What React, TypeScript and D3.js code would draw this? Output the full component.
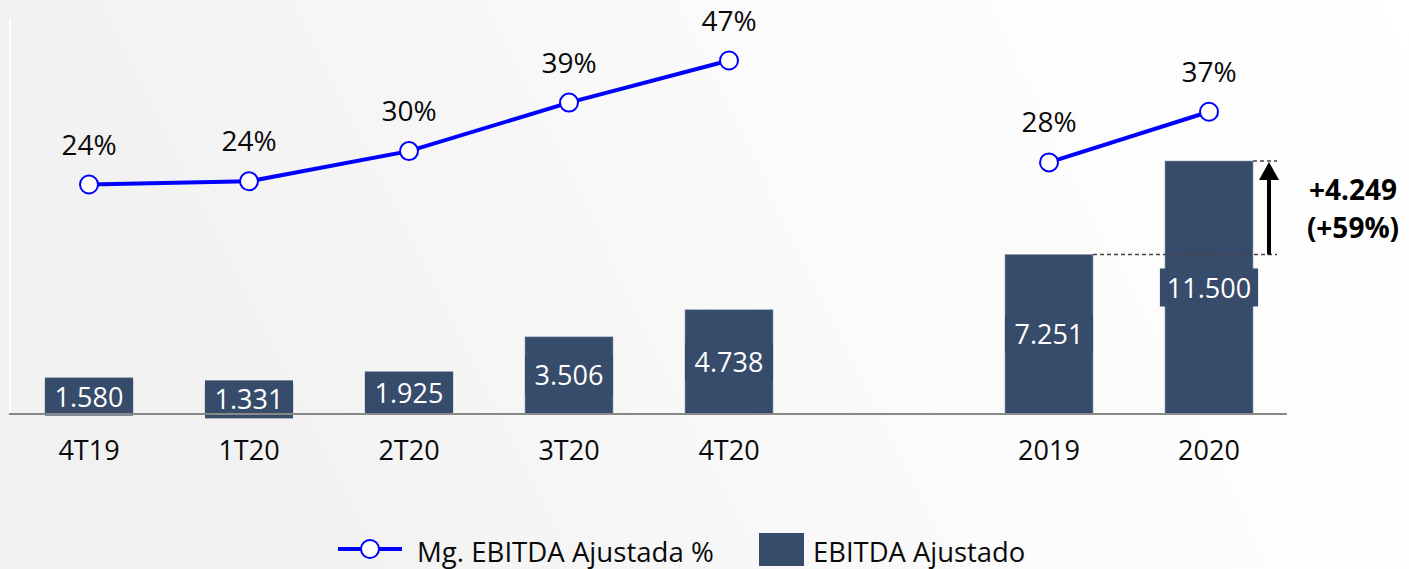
import React from "react";
import * as d3 from "d3";

const categories = ["4T19", "1T20", "2T20", "3T20", "4T20", "", "2019", "2020"];
const ebitda = [1580, 1331, 1925, 3506, 4738, null, 7251, 11500];
const ebitdaLabels = ["1.580", "1.331", "1.925", "3.506", "4.738", "", "7.251", "11.500"];
const margin = [23.9, 24.5, 30.1, 39.1, 46.9, null, 28.0, 37.4];
const marginLabels = ["24%", "24%", "30%", "39%", "47%", "", "28%", "37%"];
const lineGroups = [[0, 1, 2, 3, 4], [6, 7]];
const deltaLabel = ["+4.249", "(+59%)"];
const legendLabels = ["Mg. EBITDA Ajustada %", "EBITDA Ajustado"];

const W = 1409;
const H = 569;
const BAR = "#374B6B";
const BLUE = "#0000FF";
const FONT = "'Open Sans', 'Noto Sans', sans-serif";

export default function App() {
  const x = d3.scaleBand<number>().domain(d3.range(categories.length)).range([9, 1289]).paddingInner(0.45).paddingOuter(0.225);
  const yBar = d3.scaleLinear().domain([0, 11500]).range([414, 161]);
  const yPct = d3.scaleLinear().domain([0, 50]).range([313.4, 43.8]);
  const bw = x.bandwidth();
  const cx = (i: number) => (x(i) as number) + bw / 2;

  const line = d3.line<number>().x((i) => cx(i)).y((i) => yPct(margin[i] as number));

  const i19 = 6, i20 = 7;
  const y19 = yBar(ebitda[i19] as number);
  const y20 = yBar(ebitda[i20] as number);
  const arrowX = 1269;

  return (
    <svg width={W} height={H} style={{ position: "absolute", left: 0, top: 0 }} fontFamily={FONT}>
      <defs>
        <linearGradient id="bg" x1="0" y1="0.2" x2="1" y2="0">
          <stop offset="0" stopColor="#f1f1f1" />
          <stop offset="0.55" stopColor="#fbfbfb" />
          <stop offset="1" stopColor="#ffffff" />
        </linearGradient>
      </defs>
      <rect x={0} y={0} width={W} height={H} fill="url(#bg)" />
      <line x1={10} x2={10} y1={18} y2={414} stroke="#ffffff" strokeWidth={2} />

      {ebitda.map((v, i) =>
        v == null ? null : (
          <rect key={"b" + i} x={x(i)} y={yBar(v)} width={bw} height={yBar(0) - yBar(v)} fill={BAR} stroke="#8a9ab0" strokeWidth={0.6} />
        )
      )}

      {ebitda.map((v, i) => {
        if (v == null) return null;
        const mid = (yBar(v) + yBar(0)) / 2;
        const label = ebitdaLabels[i];
        const tw = label.length * 15.2 - 7;
        const bx = Math.max(bw, tw + 14);
        return (
          <g key={"l" + i}>
            <rect x={cx(i) - bx / 2} y={mid - 19} width={bx} height={38} fill={BAR} />
            <text x={cx(i)} y={mid + 10} textAnchor="middle" fill="#ffffff" fontSize={27}>
              {label}
            </text>
          </g>
        );
      })}

      <line x1={9} x2={1287} y1={414} y2={414} stroke="#888888" strokeWidth={2} />

      {categories.map((c, i) =>
        c ? (
          <text key={"t" + i} x={cx(i)} y={460} textAnchor="middle" fontSize={27} fill="#0a0a0a">
            {c}
          </text>
        ) : null
      )}

      {/* dashed guide lines */}
      <line x1={(x(i19) as number) + bw} x2={1277} y1={y19} y2={y19} stroke="#444" strokeWidth={1.3} strokeDasharray="4,3" />
      <line x1={(x(i20) as number) + bw} x2={1277} y1={y20} y2={y20} stroke="#444" strokeWidth={1.3} strokeDasharray="4,3" />
      {/* arrow */}
      <line x1={arrowX} x2={arrowX} y1={y19} y2={y20 + 15} stroke="#000" strokeWidth={4} />
      <path d={`M${arrowX - 10},${y20 + 19} L${arrowX},${y20 + 1} L${arrowX + 10},${y20 + 19} Z`} fill="#000" />
      <text x={1353} y={200} textAnchor="middle" fontSize={28} fontWeight="bold" fill="#000">
        {deltaLabel[0]}
      </text>
      <text x={1353} y={238} textAnchor="middle" fontSize={28} fontWeight="bold" fill="#000">
        {deltaLabel[1]}
      </text>

      {lineGroups.map((g, k) => (
        <path key={"ln" + k} d={line(g) as string} fill="none" stroke={BLUE} strokeWidth={4} />
      ))}
      {margin.map((m, i) =>
        m == null ? null : (
          <g key={"p" + i}>
            <circle cx={cx(i)} cy={yPct(m)} r={9} fill="#fff" stroke={BLUE} strokeWidth={2} />
            <text x={cx(i)} y={yPct(m) - 30} textAnchor="middle" fontSize={28} fill="#0a0a0a">
              {marginLabels[i]}
            </text>
          </g>
        )
      )}

      {/* legend */}
      <line x1={338} x2={402} y1={549} y2={549} stroke={BLUE} strokeWidth={4} />
      <circle cx={370} cy={549} r={9} fill="#fff" stroke={BLUE} strokeWidth={2} />
      <text x={417} y={562} fontSize={27.6} fill="#0a0a0a">
        {legendLabels[0]}
      </text>
      <rect x={759} y={533} width={45} height={33} fill={BAR} />
      <text x={813} y={562} fontSize={27.4} fill="#0a0a0a">
        {legendLabels[1]}
      </text>
    </svg>
  );
}
